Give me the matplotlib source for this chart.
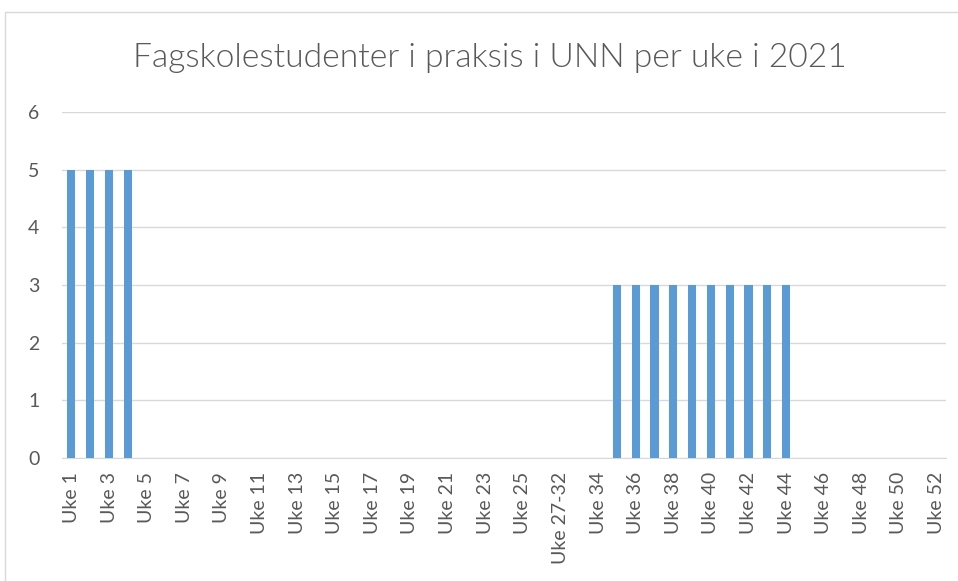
import matplotlib

matplotlib.use("Agg")

import matplotlib.pyplot as plt
from matplotlib.patches import Rectangle

weeks = [f"Uke {w}" for w in range(1, 27)] + ["Uke 27-32"] + [f"Uke {w}" for w in range(33, 53)]
students = [5, 5, 5, 5] + [0] * 25 + [3] * 10 + [0] * 8
y_ticks = [0, 1, 2, 3, 4, 5, 6]
title = "Fagskolestudenter i praksis i UNN per uke i 2021"

TEXT = "#595959"
BAR = "#5B9BD5"
GRID = "#D9D9D9"
FONT = "Lato"

W, H = 958, 581
fig = plt.figure(figsize=(W / 100, H / 100), dpi=100)
ax = fig.add_axes([62 / W, 1 - 458 / H, (946 - 62) / W, (458 - 112) / H])

x = range(len(weeks))
ax.bar(x, students, width=0.43, color=BAR, zorder=3)

ax.set_xlim(-0.5, len(weeks) - 0.5)
ax.set_ylim(0, 6)
ax.set_yticks(y_ticks)
ax.set_yticklabels([str(v) for v in y_ticks], fontsize=14, color=TEXT, family=FONT)
ax.set_xticks(list(x)[::2])
ax.set_xticklabels(weeks[::2], rotation=90, fontsize=14, color=TEXT, family=FONT)
ax.tick_params(axis="both", length=0, pad=10)
ax.tick_params(axis="y", pad=24.5)
for lbl in ax.get_yticklabels():
    lbl.set_horizontalalignment("left")

ax.grid(axis="y", color=GRID, lw=1, zorder=0)
for s in ("top", "right", "left"):
    ax.spines[s].set_visible(False)
ax.spines["bottom"].set_color(GRID)

fig.text(490 / W, 1 - 58 / H, title, ha="center", va="center",
         fontsize=24.2, color=TEXT, family=FONT, fontweight=300)

fig.patches.append(Rectangle((5 / W, -0.02), 1.0, 1 - 12 / H + 0.02,
                             transform=fig.transFigure, fill=False,
                             edgecolor=GRID, lw=1))

fig.savefig("out.png", dpi=100)
